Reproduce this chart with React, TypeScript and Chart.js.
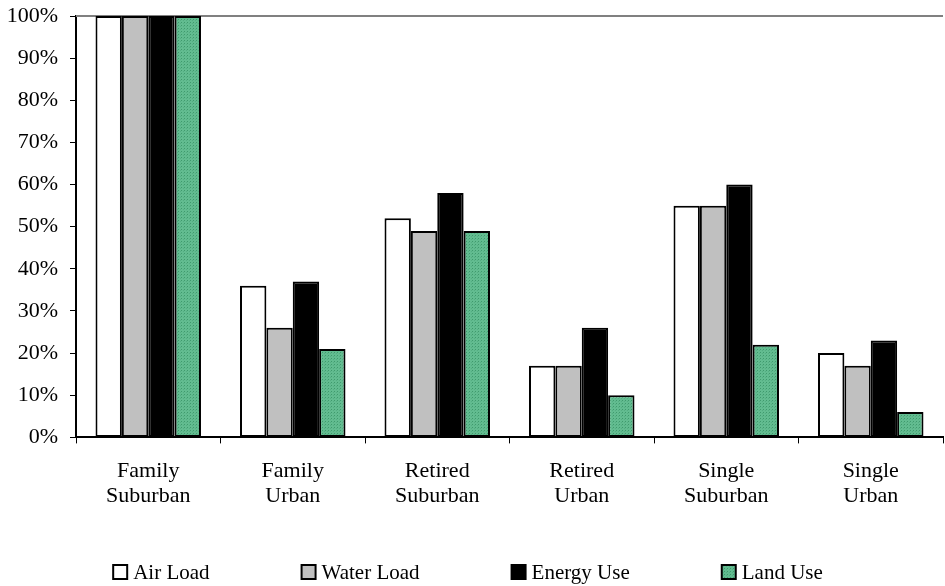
import { useEffect, useRef } from "react";
import { Chart, registerables } from "chart.js";

Chart.register(...registerables);

const categories: string[][] = [
  ["Family", "Suburban"],
  ["Family", "Urban"],
  ["Retired", "Suburban"],
  ["Retired", "Urban"],
  ["Single", "Suburban"],
  ["Single", "Urban"],
];
const seriesNames = ["Air Load", "Water Load", "Energy Use", "Land Use"];
const airLoad = [100, 36, 52, 17, 55, 20];
const waterLoad = [100, 26, 49, 17, 55, 17];
const energyUse = [100, 37, 58, 26, 60, 23];
const landUse = [100, 21, 49, 10, 22, 6];
const yMin = 0;
const yMax = 100;
const yStep = 10;

const FONT = "'Liberation Serif', 'Times New Roman', serif";

function makeGreenPattern(): CanvasPattern | string {
  const c = document.createElement("canvas");
  c.width = 3;
  c.height = 3;
  const g = c.getContext("2d");
  if (!g) return "#58b286";
  g.fillStyle = "#62bc90";
  g.fillRect(0, 0, 3, 3);
  g.fillStyle = "#3f9a6d";
  g.fillRect(1, 1, 1, 1);
  g.fillStyle = "#54ad82";
  g.fillRect(0, 2, 1, 1);
  const p = g.createPattern(c, "repeat");
  return p || "#58b286";
}

const topLinePlugin = {
  id: "topLine",
  beforeDatasetsDraw(chart: any) {
    const { ctx, chartArea } = chart;
    ctx.save();
    ctx.strokeStyle = "#808080";
    ctx.lineWidth = 2;
    ctx.beginPath();
    ctx.moveTo(chartArea.left, chartArea.top);
    ctx.lineTo(chartArea.right, chartArea.top);
    ctx.stroke();
    ctx.restore();
  },
};

const bottomLegendPlugin = {
  id: "bottomLegend",
  afterDraw(chart: any) {
    const ctx = chart.ctx as CanvasRenderingContext2D;
    ctx.save();
    ctx.font = `21px ${FONT}`;
    const box = 14;
    const textGap = 6;
    const gap = 92;
    const items = chart.data.datasets.map((ds: any) => ({
      label: ds.label as string,
      fill: ds.backgroundColor,
      w: box + textGap + ctx.measureText(ds.label).width,
    }));
    const total =
      items.reduce((s: number, it: any) => s + it.w, 0) + gap * (items.length - 1);
    let x = 468 - total / 2;
    const yc = 572;
    items.forEach((it: any) => {
      ctx.fillStyle = it.fill;
      ctx.fillRect(x, yc - box / 2, box, box);
      ctx.lineWidth = 2;
      ctx.strokeStyle = "#000";
      ctx.strokeRect(x, yc - box / 2, box, box);
      ctx.fillStyle = "#000";
      ctx.textBaseline = "middle";
      ctx.textAlign = "left";
      ctx.fillText(it.label, x + box + textGap, yc + 1);
      x += it.w + gap;
    });
    ctx.restore();
  },
};

export default function App() {
  const canvasRef = useRef<HTMLCanvasElement | null>(null);

  useEffect(() => {
    if (!canvasRef.current) return;
    const green = makeGreenPattern();
    const values = [airLoad, waterLoad, energyUse, landUse];
    const fills: any[] = ["#ffffff", "#c0c0c0", "#000000", green];
    const chart = new Chart(canvasRef.current, {
      type: "bar",
      data: {
        labels: categories,
        datasets: seriesNames.map((name, i) => ({
          label: name,
          data: values[i],
          backgroundColor: fills[i],
          borderColor: "#000000",
          borderWidth: 2,
          borderSkipped: false,
          categoryPercentage: 0.73,
          barPercentage: 1,
        })),
      },
      options: {
        animation: false,
        responsive: true,
        maintainAspectRatio: false,
        layout: { padding: { top: 16, left: 0, right: 2, bottom: 62 } },
        plugins: {
          legend: { display: false },
          tooltip: { enabled: false },
        },
        scales: {
          x: {
            offset: true,
            grid: {
              display: true,
              drawOnChartArea: false,
              offset: true,
              tickLength: 6,
              color: "#000",
              lineWidth: 1,
            },
            border: { display: true, color: "#000", width: 2 },
            ticks: {
              color: "#000",
              padding: 15,
              font: { family: FONT, size: 22, lineHeight: 1.15 },
              maxRotation: 0,
              autoSkip: false,
            },
          },
          y: {
            min: yMin,
            max: yMax,
            afterFit: (scale: any) => {
              scale.width = 76;
              scale.paddingTop = 0;
              scale.paddingBottom = 0;
            },
            grid: {
              display: true,
              drawOnChartArea: false,
              tickLength: 6,
              color: "#000",
              lineWidth: 1,
            },
            border: { display: true, color: "#000", width: 2 },
            ticks: {
              stepSize: yStep,
              color: "#000",
              padding: 12,
              autoSkip: false,
              font: { family: FONT, size: 22 },
              callback: (v: any) => `${v}%`,
            },
          },
        },
      },
      plugins: [topLinePlugin, bottomLegendPlugin],
    });
    return () => chart.destroy();
  }, []);

  return (
    <div
      style={{
        position: "fixed",
        top: 0,
        left: 0,
        width: 945,
        height: 586,
        background: "#fff",
      }}
    >
      <canvas ref={canvasRef} />
    </div>
  );
}
